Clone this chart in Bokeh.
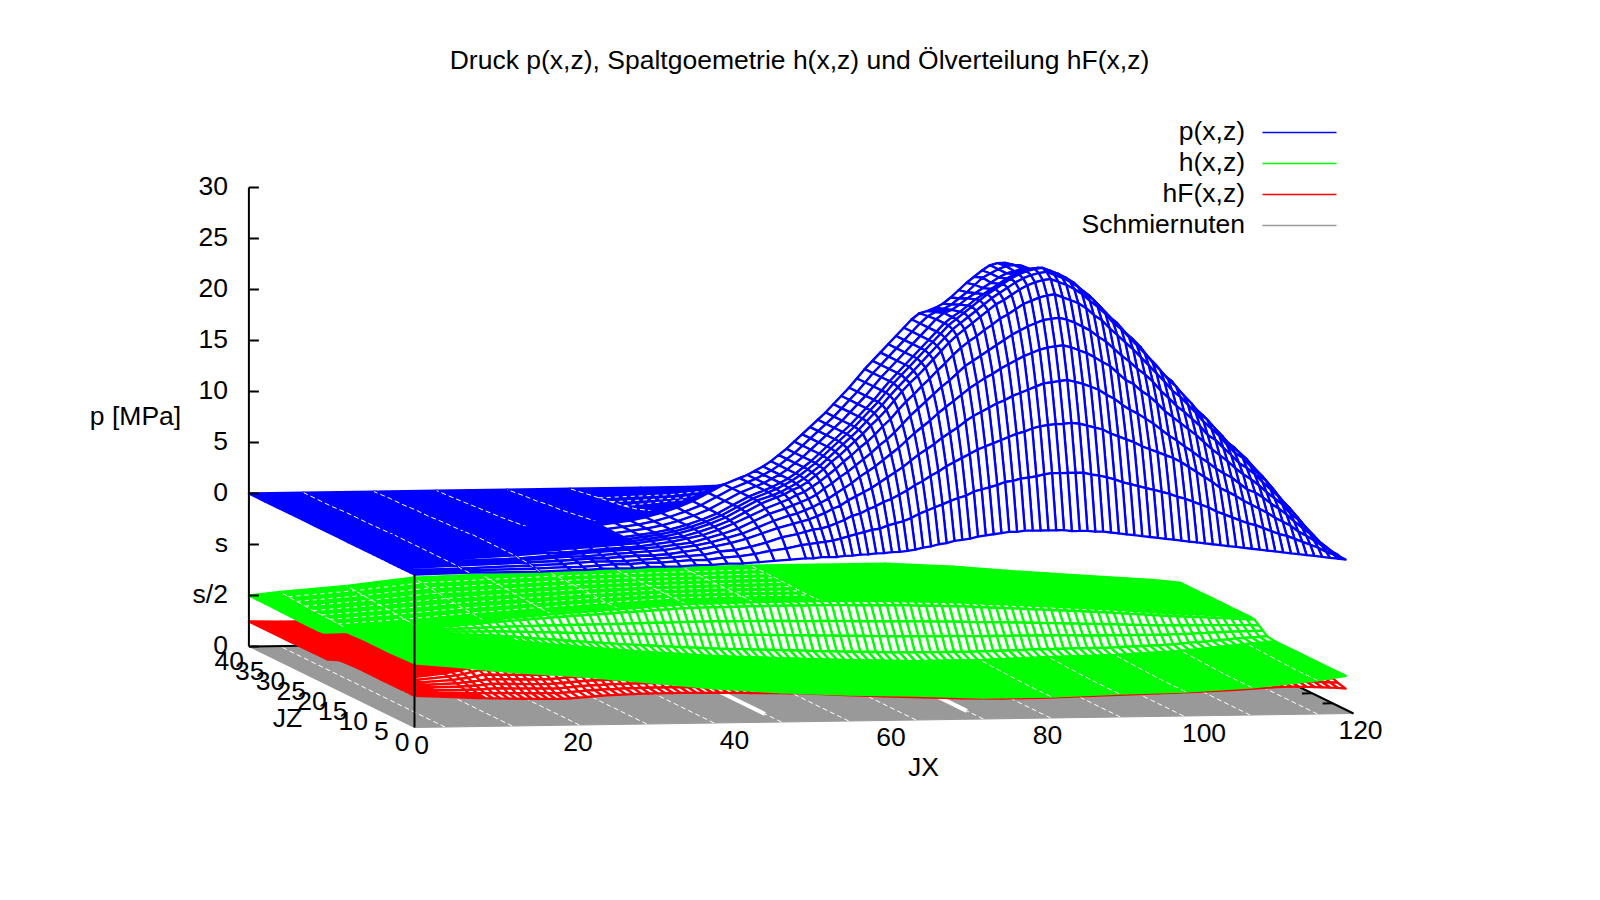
from bokeh.plotting import figure
from bokeh.embed import file_html
from bokeh.resources import INLINE
from bokeh.core.properties import value

TITLE = "Druck p(x,z), Spaltgoemetrie h(x,z) und Ölverteilung hF(x,z)"
LEGEND = ["p(x,z)", "h(x,z)", "hF(x,z)", "Schmiernuten"]
Z_TICKS = [45, 40, 35, 30, 25, 20, 15, 10, 5, 0]
Z_LABELS = ["30", "25", "20", "15", "10", "5", "0", "s", "s/2", "0"]
JX_TICKS = [0, 20, 40, 60, 80, 100, 120]
JZ_TICKS = [0, 5, 10, 15, 20, 25, 30, 35, 40]

# ---- p(x,z), tenths of MPa ----
P_JX = [0, 7, 16] + list(range(20, 50, 2)) + list(range(50, 120))
P_JZ = [0, 1, 2, 3, 4, 5, 6, 7, 8, 9, 10, 12, 14, 16, 18]
P_00 = [0,1,1,2,2,3,3,3,4,4,4,5,5,6,6,7,8,9,10,10,11,11,11,12,12,13,13,14,14,15,15,16,17,19,20,22,23,25,26,27,29,30,31,32,33,33,34,34,34,34,34,34,33,33,33,32,32,31,30,29,28,27,26,25,24,23,22,21,20,19,18,17,16,15,14,13,12,11,10,9,8,7,6,5,4,3,2,1]
P_01 = [0,1,2,3,3,4,5,5,6,6,7,8,8,10,11,13,16,18,21,22,23,24,25,27,29,31,33,35,36,39,41,43,46,50,53,56,59,62,65,67,71,73,75,77,80,81,83,84,85,87,88,88,88,88,88,86,85,83,81,78,76,74,72,70,68,66,63,61,58,55,52,48,45,42,39,36,34,31,28,25,23,20,17,14,11,7,4,1]
P_02 = [0,1,3,4,5,6,6,6,7,8,9,10,11,14,15,18,22,27,30,32,34,35,37,40,43,47,49,53,56,60,63,67,71,76,80,85,89,94,98,102,106,110,113,116,119,122,125,127,130,132,133,134,134,135,134,132,130,128,124,121,118,115,111,108,105,102,99,95,90,85,80,75,69,65,61,56,52,48,44,39,35,31,25,21,16,11,6,2]
P_03 = [0,2,4,5,6,7,7,8,9,9,10,12,14,17,20,24,29,34,38,40,42,45,48,52,55,60,64,68,72,77,82,87,92,98,104,109,114,120,125,130,136,141,145,149,153,156,160,163,166,169,172,173,174,175,173,171,168,165,160,156,150,145,141,136,131,125,119,114,108,103,97,92,86,81,77,71,65,62,57,51,46,40,33,27,21,14,8,2]
P_04 = [0,2,4,6,7,7,8,9,10,11,12,14,16,19,23,27,33,39,44,46,49,52,56,60,65,70,75,81,86,91,97,103,109,116,123,129,135,142,148,154,160,166,171,176,180,185,189,193,197,200,203,205,206,207,205,202,199,195,190,186,179,172,168,161,156,149,141,135,129,123,117,110,103,97,91,84,78,73,67,60,54,48,39,33,25,17,9,2]
P_05 = [0,2,4,6,7,8,9,10,11,12,13,15,17,21,25,30,37,44,49,52,55,58,62,68,73,79,84,90,96,102,109,115,122,130,138,145,152,159,166,172,179,186,191,196,201,206,211,216,220,224,227,230,231,232,230,227,223,219,213,208,201,194,188,181,175,168,159,152,144,138,131,124,115,110,102,95,87,82,76,68,61,54,44,37,28,19,10,3]
P_06 = [0,2,5,7,7,8,9,10,11,12,14,16,19,22,27,33,40,47,53,56,60,63,68,73,79,85,92,98,105,111,118,126,133,142,150,157,165,172,180,187,195,202,208,213,219,224,230,234,239,244,247,250,252,253,250,247,244,239,232,227,219,212,205,198,190,182,174,166,157,151,143,135,126,119,112,103,95,90,82,74,67,58,48,40,31,20,11,3]
P_07 = [0,2,5,7,8,9,10,11,12,13,15,17,19,23,28,34,42,50,56,59,63,66,71,77,83,90,96,103,110,117,125,132,140,149,158,166,173,181,189,197,205,212,218,224,230,236,242,246,251,256,260,263,265,266,263,260,256,251,244,238,231,222,216,208,200,192,183,175,166,159,150,142,132,126,117,109,100,94,87,78,70,61,51,42,32,21,12,3]
P_08 = [0,2,5,7,8,9,10,11,12,13,15,17,20,24,29,35,43,51,56,59,63,67,72,78,84,91,98,105,112,119,127,135,143,152,160,168,176,184,192,200,208,216,222,228,234,240,246,251,256,261,265,268,270,271,268,265,261,256,249,243,235,226,220,211,204,196,186,178,168,162,152,143,135,128,119,111,102,96,88,79,71,62,51,43,33,22,12,3]
P_09 = [0,2,5,7,8,9,10,11,12,13,15,17,20,24,29,35,43,51,57,60,64,68,73,79,85,92,99,106,113,120,128,136,144,153,162,170,178,186,194,202,210,218,224,230,236,242,248,253,258,263,267,270,272,273,270,267,263,258,251,245,237,229,221,213,205,197,188,180,171,163,154,145,137,129,120,112,103,97,89,80,72,63,52,43,33,22,12,3]
P_10 = [0,2,5,7,8,9,10,11,12,13,15,17,20,24,29,35,43,51,57,60,64,68,73,79,85,92,99,106,113,120,128,136,144,153,162,170,178,186,194,202,210,218,224,229,235,241,246,251,256,261,265,268,270,271,268,265,261,256,249,243,235,226,219,211,204,196,186,178,168,162,152,143,134,127,118,110,101,95,87,78,70,61,50,41,31,20,10,2]
P_12 = [0,2,5,7,8,9,10,11,12,13,15,17,20,24,29,35,43,51,57,60,64,68,73,79,85,92,99,106,113,120,128,136,144,153,162,170,178,186,194,202,210,218,224,227,232,238,243,248,253,258,262,264,266,266,263,260,256,251,244,238,230,221,215,207,199,191,181,173,164,157,148,139,130,122,113,105,96,90,82,73,65,56,45,36,26,15,5,0]
P_14 = [0,2,5,7,8,9,10,11,12,13,15,17,20,24,29,35,43,51,57,60,64,68,73,79,85,92,99,106,113,120,128,136,144,153,162,170,178,186,194,202,210,217,221,224,228,234,240,247,254,258,262,265,266,265,261,257,252,244,236,228,220,212,205,197,189,181,171,163,154,147,137,128,119,112,103,94,85,80,72,63,55,46,35,27,18,9,3,0]
P_16 = [0,2,5,7,8,9,10,11,12,13,15,17,20,24,29,35,43,51,57,60,64,68,73,79,85,92,99,106,113,120,128,136,144,153,162,170,178,186,194,202,210,216,218,221,225,231,238,245,251,257,262,264,264,262,258,253,247,239,230,220,211,203,196,188,180,172,162,154,144,137,128,119,109,102,93,84,76,70,62,53,45,36,26,18,10,4,1,0]
P_18 = [0,2,4,6,7,8,9,10,11,12,13,15,18,22,26,31,38,45,40,42,45,48,51,55,60,64,69,74,79,84,90,95,101,107,113,119,125,130,136,141,147,153,157,161,165,169,174,177,181,184,187,189,190,191,189,187,184,181,176,171,167,163,158,154,150,146,141,136,130,122,115,107,99,93,87,80,74,68,62,56,50,44,36,30,23,15,8,2]
P_TABLE = [P_00, P_01, P_02, P_03, P_04, P_05, P_06, P_07, P_08, P_09, P_10, P_12, P_14, P_16, P_18]

P_BACK_JX = [0, 7, 16, 24, 33, 41, 50, 56, 62, 70, 80, 95, 110, 119]
P_BACK_JZ = [18, 24, 27, 30, 33, 36, 40]
P_BACK_18 = [0, 2, 4, 8, 12, 21, 40, 60, 90, 136, 180, 150, 60, 2]
P_BACK_24 = [0, 1, 3, 5, 8, 12, 20, 35, 50, 70, 90, 80, 30, 1]
P_BACK_27 = [0, 1, 2, 4, 6, 9, 15, 25, 37, 52, 67, 60, 22, 1]
P_BACK_30 = [0, 1, 2, 3, 5, 7, 10, 16, 25, 35, 45, 40, 15, 1]
P_BACK_33 = [0, 0, 1, 2, 3, 5, 7, 11, 17, 25, 32, 27, 10, 0]
P_BACK_36 = [0, 0, 1, 1, 2, 3, 4, 6, 10, 15, 20, 15, 5, 0]
P_BACK_40 = [0, 0, 0, 0, 0, 0, 0, 0, 1, 3, 5, 4, 1, 0]
P_BACK = [P_BACK_18, P_BACK_24, P_BACK_27, P_BACK_30, P_BACK_33, P_BACK_36, P_BACK_40]
P_DASH_JX = [7, 16, 24, 33, 41]
P_DASH_ROWS = [27, 30, 33]

# ---- h(x,z), hundredths of a plot unit ----
H_C_JX = [0, 4, 12.5, 21, 29.7, 38.3, 46.9, 55.5, 64.1, 72.7, 81.3, 90, 98.5, 107, 115.4, 119]
H_FRONT_JZ = [0, 6, 12, 17]
H_F_00 = [630, 600, 530, 480, 410, 340, 290, 260, 240, 210, 210, 230, 240, 270, 330, 370]
H_F_06 = [620, 600, 530, 480, 410, 340, 290, 260, 240, 210, 210, 230, 240, 270, 330, 370]
H_F_12 = [620, 600, 530, 480, 420, 350, 300, 270, 250, 220, 220, 240, 250, 280, 340, 370]
H_F_17 = [610, 590, 530, 490, 420, 360, 310, 280, 250, 230, 230, 250, 260, 290, 350, 370]
H_FRONT = [H_F_00, H_F_06, H_F_12, H_F_17]
H_BACK_JZ = [23, 26, 28, 30, 32, 34, 36, 38, 40]
H_B_23 = [490, 490, 520, 570, 620, 660, 700, 710, 710, 700, 680, 640, 600, 550, 510, 490]
H_B_26 = [490, 495, 532, 582, 626, 665, 700, 710, 710, 705, 685, 645, 605, 555, 510, 490]
H_B_28 = [490, 500, 540, 590, 630, 670, 700, 710, 710, 710, 690, 650, 610, 560, 510, 490]
H_B_30 = [495, 503, 546, 598, 637, 673, 700, 710, 713, 710, 693, 653, 610, 560, 513, 490]
H_B_32 = [495, 506, 552, 606, 643, 676, 700, 710, 716, 710, 696, 656, 610, 560, 516, 490]
H_B_34 = [500, 510, 560, 620, 650, 680, 700, 710, 720, 710, 700, 660, 610, 560, 520, 490]
H_B_36 = [500, 516, 566, 630, 656, 683, 700, 710, 720, 714, 707, 667, 613, 563, 520, 490]
H_B_38 = [500, 523, 573, 640, 663, 687, 700, 710, 720, 717, 713, 673, 617, 567, 520, 490]
H_B_40 = [500, 530, 580, 650, 670, 690, 700, 710, 720, 720, 720, 680, 620, 570, 520, 490]
H_BACK = [H_B_23, H_B_26, H_B_28, H_B_30, H_B_32, H_B_34, H_B_36, H_B_38, H_B_40]
H_BAND_JX = [0, 6] + list(range(12, 120))
H_BAND_JZ = [17, 19, 20, 21, 22, 23]
H_17 = [610,575,535,530,525,520,515,510,505,500,495,490,482,474,466,458,450,442,435,427,418,411,404,397,390,383,376,369,362,356,350,344,338,332,326,320,315,310,306,302,298,294,291,288,284,281,278,274,271,268,264,261,258,254,251,248,246,244,241,239,236,234,232,230,230,230,230,230,230,230,230,230,232,234,236,238,240,243,245,248,250,251,252,254,255,256,257,258,259,261,265,268,272,275,279,282,286,290,297,304,311,318,325,332,340,348,354,359,365,370]
H_19 = [598,567,533,529,525,521,517,513,509,505,502,498,491,484,478,471,464,458,452,445,437,432,426,420,414,408,402,396,391,386,381,376,371,366,361,356,352,347,344,340,337,333,331,328,325,322,319,316,313,310,307,304,301,298,295,292,290,288,286,284,281,279,277,275,275,275,274,274,274,274,273,273,275,276,277,279,280,282,284,286,287,288,288,290,290,291,291,292,292,293,296,299,302,304,307,309,312,315,321,327,333,338,344,350,357,364,369,373,377,382]
H_20 = [563,544,528,526,526,525,524,524,523,522,522,521,519,516,514,511,508,506,503,501,497,495,492,490,487,485,482,480,478,476,474,472,470,469,467,465,464,462,460,458,456,454,453,451,449,448,446,444,442,440,438,436,434,432,430,428,426,425,422,420,418,417,415,413,413,411,411,409,409,408,407,406,405,404,404,403,403,403,403,402,402,401,400,399,398,397,395,395,393,392,393,392,392,392,392,391,391,391,394,396,398,401,403,406,409,412,413,414,416,417]
H_21 = [531,522,524,524,526,529,531,533,535,538,540,543,544,545,547,548,548,550,551,552,552,553,553,554,555,556,556,557,558,559,560,561,562,563,564,565,566,567,567,567,566,565,565,565,564,563,563,562,561,560,558,557,556,555,554,552,551,550,547,546,544,543,542,540,539,537,536,534,532,531,529,527,525,522,520,518,516,514,512,509,507,504,502,500,497,494,491,489,486,483,481,478,475,472,470,467,464,462,461,460,459,458,458,457,456,456,454,453,451,449]
H_22 = [496,499,519,522,527,532,538,543,549,554,560,566,572,577,582,588,592,598,602,607,612,616,620,624,629,633,636,641,645,650,653,658,661,666,670,674,678,682,684,685,685,686,687,688,688,689,690,690,690,690,689,689,689,689,689,688,687,686,684,683,682,680,679,678,676,674,672,669,667,665,662,659,656,651,647,642,639,634,630,626,622,617,614,609,605,600,596,592,587,582,577,571,566,560,555,549,544,538,534,529,525,520,517,512,508,504,499,494,489,484]
H_23 = [490,495,518,521,527,533,539,545,551,557,563,570,576,582,588,594,599,605,610,616,621,626,630,635,640,645,649,654,659,664,668,673,677,682,687,691,696,700,702,703,704,705,706,707,708,709,710,710,710,710,710,710,710,710,710,709,708,707,705,704,703,702,701,700,698,695,693,690,688,686,683,680,676,671,667,662,658,653,649,644,640,635,631,626,622,617,612,608,603,597,592,586,580,574,568,562,556,550,545,540,535,530,526,521,516,511,506,501,495,490]
H_BAND = [H_17, H_19, H_20, H_21, H_22, H_23]
H_DASH_FRONT_JX = [81.3, 90, 98.5, 107, 115.4]
H_DASH_BACK_JX = [4, 12.5, 21, 29.7, 38.3, 46.9, 55.5, 64.1]

# ---- hF(x,z), hundredths of a plot unit ----
F_JX = [0, 4] + list(range(8, 51)) + list(range(55, 110, 5)) + list(range(110, 120))
F_JZ = [0, 2, 3, 4, 5, 6, 7, 8]
F_0 = [310,295,280,278,275,272,270,268,266,265,263,262,261,260,262,268,274,280,285,288,291,294,296,298,299,300,300,300,300,300,299,298,297,296,295,293,291,289,287,285,284,283,281,280,277,255,236,222,205,198,200,208,218,225,235,250,270,272,272,270,268,265,262,258,253,245]
F_2 = [310,298,288,287,286,285,285,283,281,280,278,277,276,275,277,283,289,295,300,303,306,309,311,313,314,315,315,315,315,315,314,313,312,311,310,308,306,304,302,300,299,298,296,295,292,270,251,237,220,213,215,223,233,240,250,265,285,287,287,285,283,280,277,273,268,265]
F_3 = [310,303,300,302,303,306,310,308,306,305,303,302,301,300,302,308,314,320,325,328,331,334,336,338,339,340,340,340,340,340,339,338,337,336,335,333,331,329,327,325,324,323,321,320,317,295,276,262,245,238,240,248,258,265,275,290,310,312,312,310,308,305,302,298,290,285]
F_4 = [310,308,312,317,320,327,335,333,331,330,328,327,326,325,327,333,339,345,350,353,356,359,361,363,364,365,365,365,365,365,364,363,362,361,360,358,356,354,352,350,349,348,346,345,342,320,301,287,270,263,265,273,283,290,300,315,335,337,337,335,333,330,327,323,300,295]
F_5 = [310,313,325,332,338,348,360,358,356,355,353,352,351,350,352,358,364,370,375,378,381,384,386,388,389,390,390,390,390,390,389,388,387,386,385,383,381,379,377,375,374,373,371,370,367,345,326,312,295,288,290,298,308,315,325,340,360,362,362,360,358,355,352,348,310,305]
F_6 = [310,318,337,347,355,370,385,383,381,380,378,377,376,375,377,383,389,395,400,403,406,409,411,413,414,415,415,415,415,415,414,413,412,411,410,408,406,404,402,400,399,398,396,395,392,370,351,337,320,313,315,323,333,340,350,365,385,387,387,385,383,380,377,373,320,315]
F_7 = [310,323,350,362,373,391,410,408,406,405,403,402,401,400,402,408,414,420,425,428,431,434,436,438,439,440,440,440,440,440,439,438,437,436,435,433,431,429,427,425,424,423,421,420,417,395,376,362,345,338,340,348,358,365,375,390,410,412,412,410,408,405,402,398,330,325]
F_8 = [310,327,360,374,387,408,430,428,426,425,423,422,421,420,422,428,434,440,445,448,451,454,456,458,459,460,460,460,460,460,459,458,457,456,455,453,451,449,447,445,444,443,441,440,437,415,396,382,365,358,360,368,378,385,395,410,430,432,432,430,428,425,422,418,335,330]
F_TABLE = [F_0, F_2, F_3, F_4, F_5, F_6, F_7, F_8]
F_BACK_JX = [0, 4, 8, 14, 25, 50, 119]
F_BACK_JZ = [8, 14, 18, 21, 30, 40]
F_B_08 = [310, 327, 360, 426, 448, 437, 330]
F_B_14 = [310, 300, 340, 450, 460, 450, 340]
F_B_18 = [300, 300, 340, 450, 460, 450, 340]
F_B_21 = [250, 260, 300, 420, 450, 450, 345]
F_B_30 = [245, 250, 290, 400, 450, 450, 345]
F_B_40 = [245, 240, 240, 400, 450, 450, 345]
F_BACK = [F_B_08, F_B_14, F_B_18, F_B_21, F_B_30, F_B_40]

# ---- Schmiernuten plane and its light stripes ----
G_JX = [0, 120]
G_JZ = [0, 40]
G_STRIPE_JX = [3.9, 12.5, 21.1, 29.7, 38.3, 46.9, 55.5, 64.1, 72.7, 81.3, 90.2, 98.3, 106.8, 115.4]
G_WIDE_JX = [46.9, 72.7]

BLUE, GREEN, RED, GRAY = "#0000ff", "#00ff00", "#ff0000", "#999999"
FONT = value("Liberation Sans")
FS = "26.5px"
SOLID_STEP = 2.5
COARSE_STEP = 3.0
MESH_WIDTH = 2.3


def px(jx, jz):
    return 414 + 7.825 * jx - 4.14 * jz


def py(jx, jz, z):
    return 727 - 0.1167 * jx - 2.025 * jz - 10.2 * z


p = figure(width=1584, height=884, x_range=(0, 1584), y_range=(884, 0),
           output_backend="svg", toolbar_location=None, min_border=0,
           x_axis_type=None, y_axis_type=None)
p.grid.visible = False
p.outline_line_color = None


def mesh(jxs, jzs, table, unit, offset, color, use_slope=False, limit=SOLID_STEP):
    assert all(len(r) == len(jxs) for r in table), [len(r) for r in table]
    assert len(table) == len(jzs)
    X = [[px(a, k) for a in jxs] for k in jzs]
    Y = [[py(a, k, offset + v * unit) for a, v in zip(jxs, row)] for k, row in zip(jzs, table)]
    xs, ys, fills = [], [], []
    for r in range(len(jzs) - 2, -1, -1):
        dk = jzs[r + 1] - jzs[r]
        for c in range(len(jxs) - 2, -1, -1):
            xs.append([X[r][c], X[r][c + 1], X[r + 1][c + 1], X[r + 1][c]])
            ys.append([Y[r][c], Y[r][c + 1], Y[r + 1][c + 1], Y[r + 1][c]])
            dy = ((Y[r][c] - Y[r + 1][c]) + (Y[r][c + 1] - Y[r + 1][c + 1])) / 2
            if use_slope:
                # vertical distance between neighbouring rows
                slope = ((Y[r][c + 1] - Y[r][c]) + (Y[r + 1][c + 1] - Y[r + 1][c])) / 2 / (X[r][c + 1] - X[r][c])
                dy -= slope * (X[r][c] - X[r + 1][c])
            fills.append(color if dy / dk < limit else "#ffffff")
    p.patches(xs, ys, fill_color=fills, line_color=color, line_width=MESH_WIDTH, line_join="round")


def stripe(jxs, jzs, table, unit, offset, wanted, width=1.0, dash=(5, 3)):
    for w in wanted:
        c = jxs.index(w)
        p.line([px(w, k) for k in jzs],
               [py(w, k, offset + row[c] * unit) for k, row in zip(jzs, table)],
               line_color="#ffffff", line_width=width, line_dash=list(dash))


def row_stripe(jxs, jzs, table, unit, offset, wanted_rows, first, last):
    for k in wanted_rows:
        row = table[jzs.index(k)]
        p.line([px(a, k) for a in jxs[first:last + 1]],
               [py(a, k, offset + row[i + first] * unit) for i, a in enumerate(jxs[first:last + 1])],
               line_color="#ffffff", line_width=1, line_dash=[4, 4])


# plane and base border
gx = [px(G_JX[0], G_JZ[0]), px(G_JX[1], G_JZ[0]), px(G_JX[1], G_JZ[1]), px(G_JX[0], G_JZ[1])]
gy = [py(G_JX[0], G_JZ[0], 0), py(G_JX[1], G_JZ[0], 0), py(G_JX[1], G_JZ[1], 0), py(G_JX[0], G_JZ[1], 0)]
p.patch(gx, gy, fill_color=GRAY, line_color=GRAY, line_width=1)
for j in G_STRIPE_JX:
    p.line([px(j, 0), px(j, 40)], [py(j, 0, 0), py(j, 40, 0)], line_color="#ffffff", line_width=1, line_dash=[5, 3])
for j in G_WIDE_JX:
    p.line([px(j, 4), px(j, 20)], [py(j, 4, 0), py(j, 20, 0)], line_color="#ffffff", line_width=4)
p.line([px(0, 40), px(120, 40)], [py(0, 40, 0), py(120, 40, 0)], line_color="black", line_width=2)
p.line([px(120, 0), px(120, 40)], [py(120, 0, 0), py(120, 40, 0)], line_color="black", line_width=2)
for k in JZ_TICKS[1:3]:
    p.line([px(120, k), px(118.7, k)], [py(120, k, 0), py(118.7, k, 0)], line_color="black", line_width=2)

# surfaces, bottom to top, back to front
mesh(F_BACK_JX, F_BACK_JZ, F_BACK, 0.01, 0, RED, limit=COARSE_STEP)
mesh(F_JX, F_JZ, F_TABLE, 0.01, 0, RED)

mesh(H_C_JX, H_BACK_JZ, H_BACK, 0.01, 0, GREEN, limit=COARSE_STEP)
stripe(H_C_JX, H_BACK_JZ, H_BACK, 0.01, 0, H_DASH_BACK_JX)
row_stripe(H_C_JX, H_BACK_JZ, H_BACK, 0.01, 0, H_BACK_JZ[1:-1], 1, 8)
mesh(H_BAND_JX, H_BAND_JZ, H_BAND, 0.01, 0, GREEN)
mesh(H_C_JX, H_FRONT_JZ, H_FRONT, 0.01, 0, GREEN, limit=COARSE_STEP)
stripe(H_C_JX, H_FRONT_JZ, H_FRONT, 0.01, 0, H_DASH_FRONT_JX)

mesh(P_BACK_JX, P_BACK_JZ, P_BACK, 0.1, 15, BLUE, limit=COARSE_STEP)
stripe(P_BACK_JX, P_BACK_JZ, P_BACK, 0.1, 15, P_DASH_JX)
row_stripe(P_BACK_JX, P_BACK_JZ, P_BACK, 0.1, 15, P_DASH_ROWS, 5, 7)
mesh(P_JX, P_JZ, P_TABLE, 0.1, 15, BLUE, use_slope=True)
stripe(P_JX, P_JZ, P_TABLE, 0.1, 15, P_DASH_JX[:2])

# vertical axes
p.line([px(0, 40), px(0, 40)], [py(0, 40, 0), py(0, 40, Z_TICKS[0])], line_color="black", line_width=2)
p.line([px(0, 0), px(0, 0)], [py(0, 0, 0), py(0, 0, 15)], line_color="black", line_width=2)
for z in Z_TICKS:
    p.line([px(0, 40), px(0, 40) + 10], [py(0, 40, z), py(0, 40, z)], line_color="black", line_width=2)


def label(x, y, s, align="center", size=FS):
    p.text([x], [y - 2], text=[s], text_font=FONT, text_font_size=size, text_color="black",
           text_align=align, text_baseline="middle")


for z, s in zip(Z_TICKS, Z_LABELS):
    label(px(0, 40) - 21, py(0, 40, z), s, "right")
for j in JX_TICKS:
    label(px(j, 0) + 7, py(j, 0, 0) + 19, str(j))
for k in JZ_TICKS:
    label(px(0, k) - 5, py(0, k, 0) + 16, str(k), "right")

label(799, 61, TITLE)
label(135, 417, "p [MPa]")
label(287, 719, "JZ")
label(923, 768, "JX")

for i, (name, col) in enumerate(zip(LEGEND, [BLUE, GREEN, RED, GRAY])):
    y = 132 + 31 * i
    label(1244.5, y, name, "right")
    p.line([1262, 1336], [y, y], line_color=col, line_width=1.6)

open("out.html", "w").write(file_html(p, INLINE))
